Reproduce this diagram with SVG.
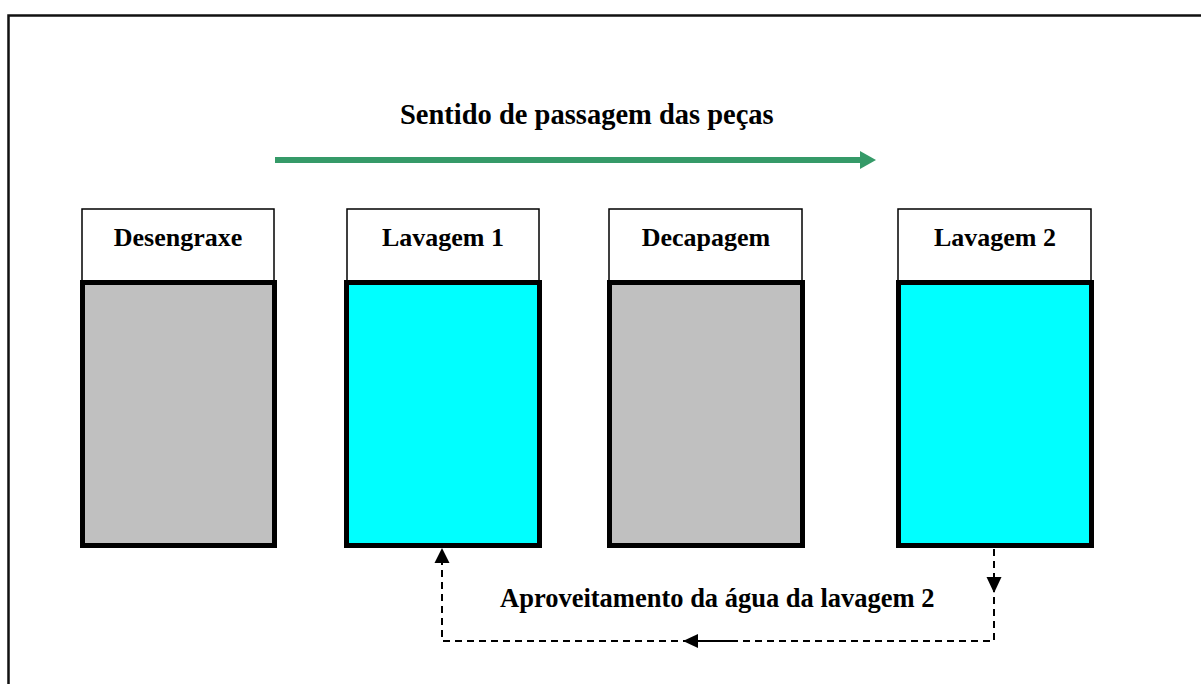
<svg xmlns="http://www.w3.org/2000/svg" width="1201" height="684" viewBox="0 0 1201 684">
<style>
.hdr{fill:#fff;stroke:#000;stroke-width:1.5}
.tank{stroke:#000;stroke-width:5}
.gray{fill:#c0c0c0}
.cyan{fill:#00ffff}
.lbl{font-family:"Liberation Serif","Times New Roman",serif;font-weight:bold;font-size:26px;fill:#000}
.dash{fill:none;stroke:#000;stroke-width:2;stroke-dasharray:7 5}
</style>
<rect width="1201" height="684" fill="#fff"/>
<path d="M8.5 684 V15.5 H1201" fill="none" stroke="#111" stroke-width="2.5"/>
<g id="title">
<text class="lbl" x="400" y="124" style="font-size:28.5px">Sentido de passagem das peças</text>
</g>
<g id="desengraxe">
<rect class="hdr" x="82" y="209" width="192" height="73"/>
<rect class="tank gray" x="82.5" y="282.5" width="192" height="263"/>
<text class="lbl" x="178" y="246" text-anchor="middle">Desengraxe</text>
</g>
<g id="lavagem1">
<rect class="hdr" x="347" y="209" width="192" height="73"/>
<rect class="tank cyan" x="346.5" y="282.5" width="193" height="263"/>
<text class="lbl" x="443" y="246" text-anchor="middle">Lavagem 1</text>
</g>
<g id="decapagem">
<rect class="hdr" x="609" y="209" width="193" height="73"/>
<rect class="tank gray" x="609.5" y="282.5" width="193" height="263"/>
<text class="lbl" x="706" y="246" text-anchor="middle">Decapagem</text>
</g>
<g id="lavagem2">
<rect class="hdr" x="898" y="209" width="193" height="73"/>
<rect class="tank cyan" x="898.5" y="282.5" width="193" height="263"/>
<text class="lbl" x="995" y="246" text-anchor="middle">Lavagem 2</text>
</g>
<g id="connectors">
<line x1="275" y1="160" x2="862" y2="160" stroke="#359a68" stroke-width="6"/>
<polygon points="876,160 860,151 860,169" fill="#359a68"/>
<path class="dash" d="M994 549 V641 H442 V562"/>
<polygon points="994,593 986.5,577 1001.5,577" fill="#000"/>
<polygon points="442,548 434.5,563 449.5,563" fill="#000"/>
<polygon points="683,641 698,634 698,648" fill="#000"/>
<line x1="697" y1="641" x2="731" y2="641" stroke="#000" stroke-width="2"/>
<text class="lbl" x="500" y="607" style="font-size:26.5px">Aproveitamento da água da lavagem 2</text>
</g>
</svg>
